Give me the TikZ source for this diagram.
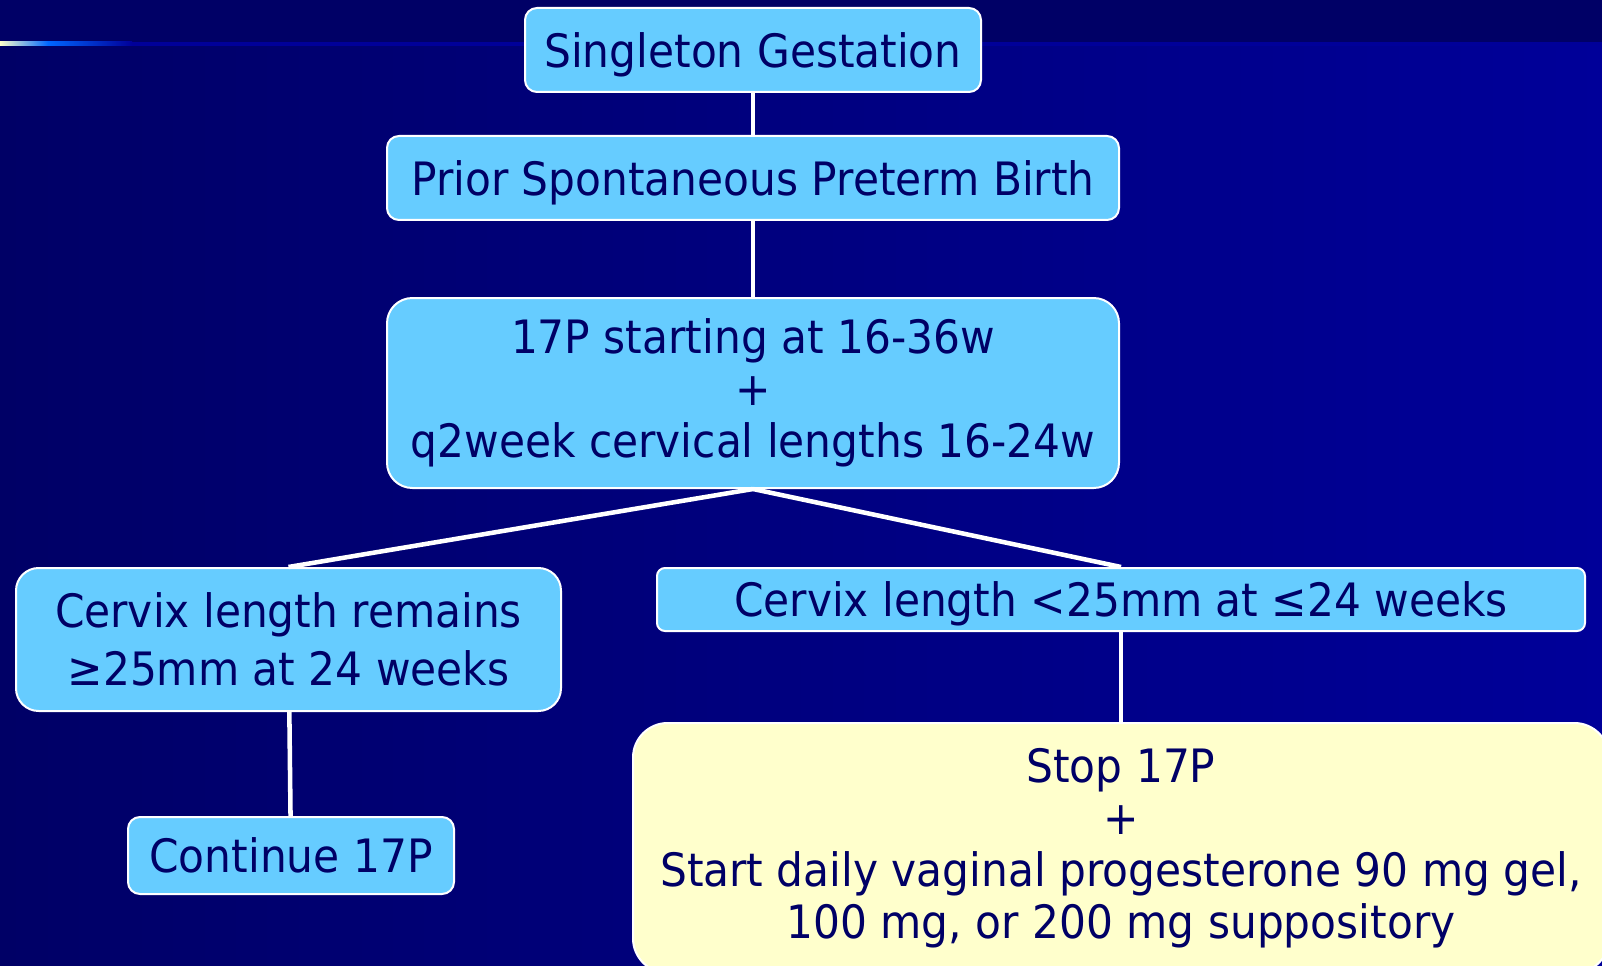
\documentclass[tikz,border=0pt]{standalone}
\usepackage{fontspec}
\setmainfont{DejaVu Sans}[FakeStretch=0.92]
\definecolor{navy}{HTML}{000066}
\definecolor{navytwo}{HTML}{000099}
\definecolor{boxblue}{HTML}{66CCFF}
\definecolor{paleyellow}{HTML}{FFFFCC}
\definecolor{hiblue}{HTML}{0066FF}
\tikzset{
  flowbox/.style={draw=white, line width=1.5pt, fill=boxblue, text=navy,
    rounded corners=9pt, align=center, inner sep=0pt,
    font=\fontsize{34.5}{39}\selectfont},
  oneline/.style={text depth=0pt},
  yellowbox/.style={flowbox, fill=paleyellow, rounded corners=26pt},
  link/.style={draw=white, line width=3.4pt}
}
\begin{document}
\begin{tikzpicture}[x=0.75pt,y=-0.75pt]
\useasboundingbox (0,0) rectangle (1602,966);
\clip (0,0) rectangle (1602,966);
% background
\shade[left color=navy, right color=navytwo] (0,44) rectangle (1602,966);
\fill[navy] (0,0) rectangle (1602,44);
\fill[navytwo] (0,42) rectangle (1602,46);
\shade[left color=paleyellow, right color=hiblue] (0,42) rectangle (48,46);
\shade[left color=hiblue, right color=navytwo] (48,42) rectangle (132,46);
% nodes
\node[flowbox, oneline, minimum width=342pt, minimum height=63pt] (sg) at (753,50) {Singleton Gestation};
\node[flowbox, oneline, minimum width=549pt, minimum height=63pt] (pb) at (753,178) {Prior Spontaneous Preterm Birth};
\node[flowbox, rounded corners=19pt, minimum width=549pt, minimum height=142.5pt] (sp) at (753,393) {17P starting at 16-36w\\+\\q2week cervical lengths 16-24w};
\node[flowbox, rounded corners=17pt, minimum width=408.75pt, minimum height=107.25pt, font=\fontsize{34.5}{43}\selectfont] (ok) at (288.5,639.5) {Cervix length remains\\≥25mm at 24 weeks};
\node[flowbox, minimum width=244.5pt, minimum height=57.75pt] (co) at (291,855.5) {Continue 17P};
\node[flowbox, oneline, rounded corners=6pt, minimum width=696pt, minimum height=47.25pt] (sh) at (1121,599.5) {Cervix length <25mm at ≤24 weeks};
\node[yellowbox, minimum width=732pt, minimum height=187.5pt] (st) at (1121,848) {Stop 17P\\+\\Start daily vaginal progesterone 90 mg gel,\\100 mg, or 200 mg suppository};
% connectors
\draw[link] (sg) -- (pb);
\draw[link] (pb) -- (sp);
\draw[link] (sp.south) -- (ok.north);
\draw[link] (sp.south) -- (sh.north);
\draw[link] (ok) -- (co);
\draw[link] (sh) -- (st);
\end{tikzpicture}
\end{document}
